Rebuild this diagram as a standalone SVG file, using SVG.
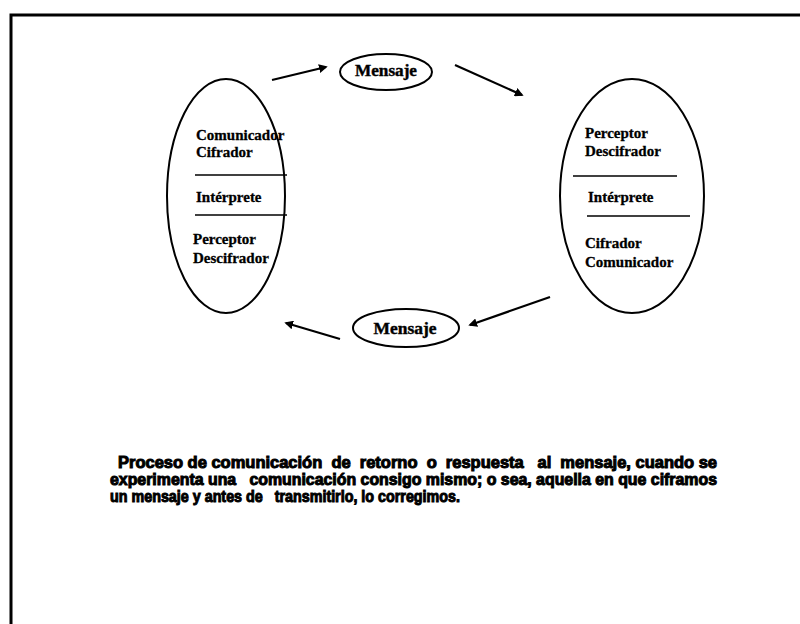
<svg xmlns="http://www.w3.org/2000/svg" width="800" height="624" viewBox="0 0 800 624">
<defs>
<marker id="ah" viewBox="0 0 10 10" refX="8" refY="5" markerWidth="4" markerHeight="4" orient="auto" markerUnits="strokeWidth">
<path d="M0,0 L10,5 L0,10 z" fill="#000"/>
</marker>
<style>
.node{fill:#fff;stroke:#000;stroke-width:2}
.t{font-family:"Liberation Serif","Times New Roman",serif;font-weight:bold;font-size:15px;fill:#000;stroke:#000;stroke-width:0.3}
.m{font-family:"Liberation Serif","Times New Roman",serif;font-weight:bold;font-size:16px;fill:#000;stroke:#000;stroke-width:0.4}
.sep{stroke:#000;stroke-width:1.6}
.conn{stroke:#000;stroke-width:2.2;fill:none;marker-end:url(#ah)}
.p{font-family:"Liberation Sans",Arial,sans-serif;font-weight:bold;font-size:16px;fill:#000;stroke:#000;stroke-width:1}
.frame{stroke:#000;stroke-width:3;fill:none}
</style>
</defs>
<rect width="800" height="624" fill="#fff"/>
<path class="frame" d="M11,624 L11,15 L800,15"/>
<g id="left">
<ellipse class="node" cx="226" cy="196" rx="59" ry="117"/>
<text class="t" x="196" y="140">Comunicador</text>
<text class="t" x="196" y="157">Cifrador</text>
<line class="sep" x1="195" y1="175" x2="287" y2="175"/>
<text class="t" x="196" y="202">Intérprete</text>
<line class="sep" x1="195" y1="215" x2="287" y2="215"/>
<text class="t" x="193" y="244">Perceptor</text>
<text class="t" x="193" y="263">Descifrador</text>
</g>
<g id="right">
<ellipse class="node" cx="632" cy="196" rx="72" ry="117"/>
<text class="t" x="585" y="138">Perceptor</text>
<text class="t" x="585" y="156">Descifrador</text>
<line class="sep" x1="573" y1="176" x2="677" y2="176"/>
<text class="t" x="588" y="202">Intérprete</text>
<line class="sep" x1="587" y1="216" x2="690" y2="216"/>
<text class="t" x="585" y="248">Cifrador</text>
<text class="t" x="585" y="267">Comunicador</text>
</g>
<g id="msg-top">
<ellipse class="node" cx="386" cy="72" rx="46" ry="18"/>
<text class="m" x="386" y="76" text-anchor="middle" textLength="62" lengthAdjust="spacingAndGlyphs">Mensaje</text>
</g>
<g id="msg-bottom">
<ellipse class="node" cx="406" cy="328" rx="53" ry="19"/>
<text class="m" x="405" y="334" text-anchor="middle" textLength="63" lengthAdjust="spacingAndGlyphs">Mensaje</text>
</g>
<g id="connectors">
<line class="conn" x1="272" y1="80" x2="326" y2="67"/>
<line class="conn" x1="455" y1="65" x2="522" y2="95"/>
<line class="conn" x1="550" y1="297" x2="470" y2="325"/>
<line class="conn" x1="340" y1="339" x2="286" y2="323"/>
</g>
<g id="caption">
<text class="p" x="118" y="468" textLength="599" lengthAdjust="spacingAndGlyphs" xml:space="preserve">Proceso de comunicación  de  retorno  o  respuesta   al  mensaje, cuando se</text>
<text class="p" x="110" y="485" textLength="607" lengthAdjust="spacingAndGlyphs" xml:space="preserve">experimenta una   comunicación consigo mismo; o sea, aquella en que ciframos</text>
<text class="p" x="110" y="502" textLength="350" lengthAdjust="spacingAndGlyphs" xml:space="preserve">un mensaje y antes de   transmitirlo, lo corregimos.</text>
</g>
</svg>
